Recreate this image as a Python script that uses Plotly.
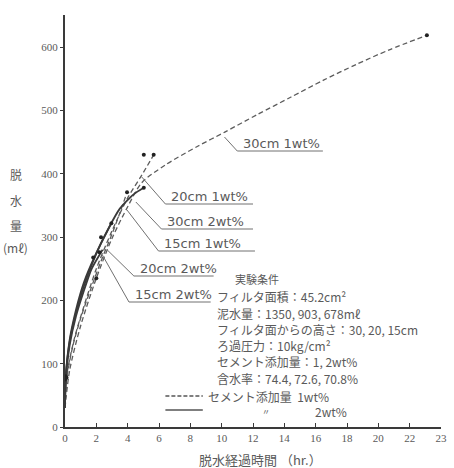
import plotly.graph_objects as go

# Dewatering volume (ml) against elapsed time (hr); dashed = cement 1 wt%, solid = cement 2 wt%
t_30cm_1wt = [0, 0.3, 1, 2, 3, 4, 4.9, 6.4, 8.5, 10.2, 12.3, 14.4, 16.5, 18.6, 20.7, 23.1]
v_30cm_1wt = [30, 90, 160, 235, 298, 348, 386, 414, 444, 466, 494, 521, 548, 573, 596, 619]

t_20cm_1wt = [0, 0.1, 0.6, 1.2, 2, 3, 4, 4.9, 5.66]
v_20cm_1wt = [35, 80, 140, 190, 250, 310, 362, 398, 430]

t_15cm_1wt = [0, 0.1, 0.5, 1, 1.6, 2.3, 3, 3.5, 3.96]
v_15cm_1wt = [30, 75, 128, 172, 215, 262, 305, 338, 371]

t_30cm_2wt = [0, 0.05, 0.3, 0.7, 1.2, 2, 2.8, 3.5, 4.4, 5.03]
v_30cm_2wt = [40, 80, 138, 185, 228, 275, 315, 345, 368, 378]

t_20cm_2wt = [0, 0.05, 0.3, 0.7, 1.2, 1.8, 2.3, 2.96]
v_20cm_2wt = [35, 80, 135, 180, 222, 262, 290, 322]

t_15cm_2wt = [0, 0.05, 0.3, 0.7, 1.2, 1.7, 2.2, 2.4]
v_15cm_2wt = [30, 78, 130, 175, 215, 250, 272, 280]

# measured points marked with dots
t_points = [0, 0.05, 0.1, 1.8, 2.0, 2.2, 2.3, 2.96, 3.96, 5.03, 5.03, 5.66, 23.1]
v_points = [75, 80, 78, 268, 235, 276, 300, 322, 371, 378, 430, 430, 619]

x_ticks = [0, 2, 4, 6, 8, 10, 12, 14, 16, 18, 20, 22, 24]
x_tick_text = ["0", "2", "4", "6", "8", "10", "12", "14", "16", "18", "20", "22", "23"]
y_ticks = [0, 100, 200, 300, 400, 500, 600]

curve_labels = ["30cm 1wt%", "20cm 1wt%", "30cm 2wt%", "15cm 1wt%", "20cm 2wt%", "15cm 2wt%"]

conditions = [
    "フィルタ面積：45.2cm²",
    "泥水量：1350, 903, 678mℓ",
    "フィルタ面からの高さ：30, 20, 15cm",
    "ろ過圧力：10kg/cm²",
    "セメント添加量：1, 2wt%",
    "含水率：74.4, 72.6, 70.8%",
]

W, H = 454, 468
L, R, T, B = 65, 7, 15, 41
PW, PH = W - L - R, H - T - B

INK = "#3a3a3a"
TEXT = "#5a5a5a"
JP = "Noto Sans CJK JP"


def px(x, y):
    """Pixel position on the page -> paper coordinates."""
    return (x - L) / PW, (H - B - y) / PH


def note(x, y, text, size=12, anchor="left", family=JP):
    ax_, ay_ = px(x, y)
    fig.add_annotation(x=ax_, y=ay_, xref="paper", yref="paper", text=text, showarrow=False,
                       xanchor=anchor, yanchor="middle", font=dict(family=family, size=size, color=TEXT))


fig = go.Figure()

dashed = [(t_30cm_1wt, v_30cm_1wt), (t_20cm_1wt, v_20cm_1wt), (t_15cm_1wt, v_15cm_1wt)]
solid = [(t_30cm_2wt, v_30cm_2wt), (t_20cm_2wt, v_20cm_2wt), (t_15cm_2wt, v_15cm_2wt)]

for t, v in dashed:
    fig.add_trace(go.Scatter(x=t, y=v, mode="lines", line=dict(color="#5c5c5c", width=1.3, dash="5px,3px", shape="spline", smoothing=0.8), hoverinfo="skip"))
for t, v in solid:
    fig.add_trace(go.Scatter(x=t, y=v, mode="lines", line=dict(color=INK, width=1.8, shape="spline", smoothing=0.6), hoverinfo="skip"))

fig.add_trace(go.Scatter(x=t_points, y=v_points, mode="markers", marker=dict(color="#222", size=4), hoverinfo="skip"))

# curve labels: leader line from the curve to an underline beneath the label
leaders = [
    ((227, 137), (240, 151), (327, 151)),
    ((143, 177), (167, 204), (256, 204)),
    ((137, 202), (163, 229), (256, 229)),
    ((128, 210), (160, 251), (258, 251)),
    ((108, 250), (135, 276), (216, 276)),
    ((103, 255), (130, 302), (213, 302)),
]
for text, (p0, p1, p2) in zip(curve_labels, leaders):
    a, b, c = px(*p0), px(*p1), px(*p2)
    fig.add_shape(type="path", xref="paper", yref="paper",
                  path=f"M {a[0]},{a[1]} L {b[0]},{b[1]} L {c[0]},{c[1]}",
                  line=dict(color="#707070", width=1))
    note(p1[0] + 4, p1[1] - 8, text, size=13, family="DejaVu Sans")

# experimental conditions block
note(236, 279, "実験条件", size=11)
for i, line in enumerate(conditions):
    note(217, 297 + i * 16.2, line, size=12)

# line-style key
for (y, dash) in [(396, "4px,2px"), (410, "solid")]:
    a, b = px(167, y), px(205, y)
    fig.add_shape(type="line", xref="paper", yref="paper", x0=a[0], y0=a[1], x1=b[0], y1=b[1],
                  line=dict(color="#555", width=1.3, dash=dash))
note(208, 396, "セメント添加量  1wt%", size=12)
note(269, 411, "〃", size=8, anchor="center")
note(317, 411, "2wt%", size=12)

# axis titles
for ch, y in [("脱", 174), ("水", 200), ("量", 225), ("(mℓ)", 247)]:
    note(15, y, ch, size=12, anchor="center")
note(264, 459, "脱水経過時間 （hr.）", size=13, anchor="center")

fig.update_layout(
    width=W, height=H,
    margin=dict(l=L, r=R, t=T, b=B),
    paper_bgcolor="white", plot_bgcolor="white",
    showlegend=False,
    xaxis=dict(range=[0, 24], tickvals=x_ticks, ticktext=x_tick_text, showgrid=False, zeroline=False,
               showline=True, linecolor=INK, linewidth=2, ticks="inside", ticklen=4, tickcolor=INK,
               tickfont=dict(family="Liberation Serif", size=11, color=TEXT)),
    yaxis=dict(range=[0, 651], tickvals=y_ticks, showgrid=False, zeroline=False,
               showline=True, linecolor=INK, linewidth=2, ticks="outside", ticklen=3, tickcolor=INK,
               tickfont=dict(family="Liberation Serif", size=11, color=TEXT)),
)

fig.write_html("out.html")
